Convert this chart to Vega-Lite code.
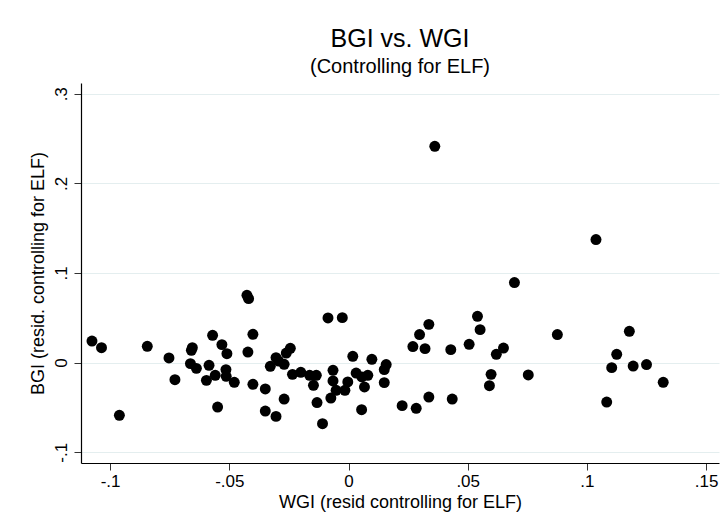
{
  "$schema": "https://vega.github.io/schema/vega-lite/v6.json",
  "width": 638,
  "height": 380,
  "autosize": "none",
  "padding": {"left": 81, "top": 83, "right": 6, "bottom": 69},
  "background": "white",
  "title": {
    "text": "BGI vs. WGI",
    "subtitle": "(Controlling for ELF)",
    "anchor": "middle",
    "frame": "group",
    "font": "Liberation Sans",
    "fontSize": 25,
    "fontWeight": "normal",
    "subtitleFont": "Liberation Sans",
    "subtitleFontSize": 20,
    "color": "black",
    "subtitleColor": "black",
    "offset": 6,
    "subtitlePadding": 5
  },
  "data": {
    "values": [
      {"wgi": -0.1076, "bgi": 0.0241}, {"wgi": -0.1036, "bgi": 0.0167}, {"wgi": -0.0961, "bgi": -0.0588},
      {"wgi": -0.0844, "bgi": 0.0182}, {"wgi": -0.0753, "bgi": 0.0052}, {"wgi": -0.0728, "bgi": -0.0190},
      {"wgi": -0.0655, "bgi": 0.0167}, {"wgi": -0.0659, "bgi": 0.0137}, {"wgi": -0.0663, "bgi": -0.0011},
      {"wgi": -0.0638, "bgi": -0.0064}, {"wgi": -0.0585, "bgi": -0.0030}, {"wgi": -0.0596, "bgi": -0.0198},
      {"wgi": -0.0570, "bgi": 0.0305}, {"wgi": -0.0559, "bgi": -0.0142}, {"wgi": -0.0549, "bgi": -0.0496},
      {"wgi": -0.0531, "bgi": 0.0201}, {"wgi": -0.0510, "bgi": 0.0100}, {"wgi": -0.0514, "bgi": -0.0078},
      {"wgi": -0.0513, "bgi": -0.0153}, {"wgi": -0.0479, "bgi": -0.0220}, {"wgi": -0.0426, "bgi": 0.0751},
      {"wgi": -0.0419, "bgi": 0.0714}, {"wgi": -0.0401, "bgi": 0.0316}, {"wgi": -0.0422, "bgi": 0.0118},
      {"wgi": -0.0401, "bgi": -0.0242}, {"wgi": -0.0349, "bgi": -0.0294}, {"wgi": -0.0349, "bgi": -0.0540},
      {"wgi": -0.0304, "bgi": -0.0600}, {"wgi": -0.0270, "bgi": -0.0406}, {"wgi": -0.0304, "bgi": 0.0056},
      {"wgi": -0.0293, "bgi": 0.0018}, {"wgi": -0.0328, "bgi": -0.0041}, {"wgi": -0.0270, "bgi": -0.0019},
      {"wgi": -0.0261, "bgi": 0.0107}, {"wgi": -0.0244, "bgi": 0.0160}, {"wgi": -0.0235, "bgi": -0.0131},
      {"wgi": -0.0200, "bgi": -0.0108}, {"wgi": -0.0163, "bgi": -0.0142}, {"wgi": -0.0135, "bgi": -0.0142},
      {"wgi": -0.0147, "bgi": -0.0253}, {"wgi": -0.0132, "bgi": -0.0446}, {"wgi": -0.0109, "bgi": -0.0681},
      {"wgi": -0.0086, "bgi": 0.0498}, {"wgi": -0.0026, "bgi": 0.0502}, {"wgi": -0.0065, "bgi": -0.0086},
      {"wgi": -0.0065, "bgi": -0.0205}, {"wgi": -0.0074, "bgi": -0.0395}, {"wgi": -0.0052, "bgi": -0.0309},
      {"wgi": -0.0015, "bgi": -0.0309}, {"wgi": -0.0003, "bgi": -0.0216}, {"wgi": 0.0018, "bgi": 0.0070},
      {"wgi": 0.0032, "bgi": -0.0116}, {"wgi": 0.0056, "bgi": -0.0160}, {"wgi": 0.0081, "bgi": -0.0142},
      {"wgi": 0.0067, "bgi": -0.0272}, {"wgi": 0.0055, "bgi": -0.0525}, {"wgi": 0.0098, "bgi": 0.0037},
      {"wgi": 0.0158, "bgi": -0.0022}, {"wgi": 0.0150, "bgi": -0.0078}, {"wgi": 0.0150, "bgi": -0.0223},
      {"wgi": 0.0225, "bgi": -0.0480}, {"wgi": 0.0284, "bgi": -0.0510}, {"wgi": 0.0337, "bgi": -0.0384},
      {"wgi": 0.0435, "bgi": -0.0406}, {"wgi": 0.0270, "bgi": 0.0179}, {"wgi": 0.0321, "bgi": 0.0156},
      {"wgi": 0.0298, "bgi": 0.0313}, {"wgi": 0.0337, "bgi": 0.0427}, {"wgi": 0.0429, "bgi": 0.0145},
      {"wgi": 0.0506, "bgi": 0.0204}, {"wgi": 0.0541, "bgi": 0.0517}, {"wgi": 0.0552, "bgi": 0.0368},
      {"wgi": 0.0362, "bgi": 0.2414}, {"wgi": 0.0696, "bgi": 0.0893}, {"wgi": 0.0650, "bgi": 0.0163},
      {"wgi": 0.0620, "bgi": 0.0093}, {"wgi": 0.0876, "bgi": 0.0313}, {"wgi": 0.0598, "bgi": -0.0131},
      {"wgi": 0.0591, "bgi": -0.0257}, {"wgi": 0.0754, "bgi": -0.0138}, {"wgi": 0.1083, "bgi": -0.0440},
      {"wgi": 0.1038, "bgi": 0.1373}, {"wgi": 0.1178, "bgi": 0.0349}, {"wgi": 0.1125, "bgi": 0.0093},
      {"wgi": 0.1104, "bgi": -0.0056}, {"wgi": 0.1194, "bgi": -0.0038}, {"wgi": 0.1250, "bgi": -0.0022},
      {"wgi": 0.1320, "bgi": -0.0220}
    ]
  },
  "mark": {"type": "circle", "size": 120, "color": "black", "opacity": 1},
  "encoding": {
    "x": {
      "field": "wgi",
      "type": "quantitative",
      "scale": {"domain": [-0.1122, 0.1554], "nice": false, "zero": false},
      "axis": {
        "title": "WGI (resid controlling for ELF)",
        "values": [-0.1, -0.05, 0, 0.05, 0.1, 0.15],
        "grid": false,
        "labelPadding": 3,
        "titlePadding": 4,
        "labelExpr": "(datum.value < 0 ? '-' : '') + replace(format(abs(datum.value), '~g'), '0.', '.')"
      }
    },
    "y": {
      "field": "bgi",
      "type": "quantitative",
      "scale": {"domain": [-0.112, 0.312], "nice": false, "zero": false},
      "axis": {
        "title": "BGI (resid. controlling for ELF)",
        "values": [-0.1, 0, 0.1, 0.2, 0.3],
        "grid": true,
        "gridColor": "#E4EEEF",
        "gridWidth": 1,
        "labelAngle": -90,
        "labelAlign": "center",
        "labelBaseline": "alphabetic",
        "labelPadding": 8,
        "titlePadding": 5,
        "labelExpr": "(datum.value < 0 ? '-' : '') + replace(format(abs(datum.value), '~g'), '0.', '.')"
      }
    }
  },
  "config": {
    "view": {"stroke": null},
    "axis": {
      "domainColor": "black",
      "domainWidth": 1.2,
      "tickColor": "#333333",
      "tickSize": 7,
      "tickWidth": 1,
      "labelFont": "Liberation Sans",
      "labelFontSize": 17,
      "labelColor": "black",
      "labelFlush": false,
      "labelOverlap": false,
      "titleFont": "Liberation Sans",
      "titleFontSize": 18,
      "titleFontWeight": "normal",
      "titleColor": "black"
    }
  }
}
